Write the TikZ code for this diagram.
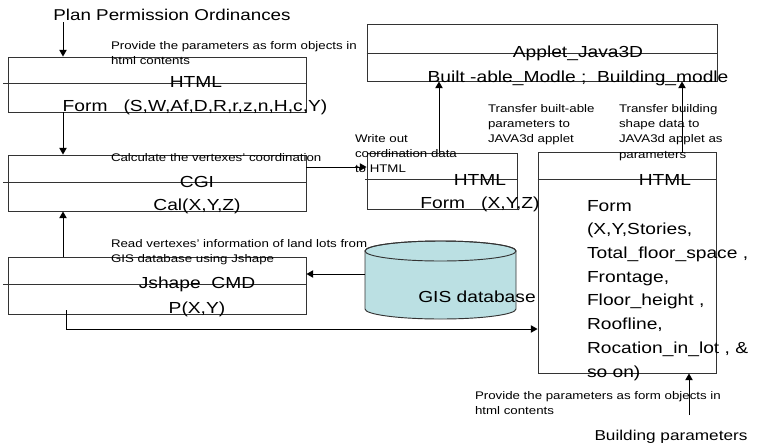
\documentclass[tikz,border=0pt]{standalone}
\usepackage{fontspec}
\setmainfont{Liberation Sans}[FakeStretch=1.2]
\usetikzlibrary{arrows.meta}
\definecolor{dbfill}{RGB}{187,224,227}
\newcommand\bigtxt{\fontsize{12pt}{13.5pt}\selectfont}
\newcommand\smalltxt{\fontsize{8.3pt}{11.6pt}\selectfont}
\newcommand\titletxt{\fontsize{11.75pt}{13.5pt}\selectfont}
\newcommand\bottomtxt{\fontsize{10.75pt}{13pt}\selectfont}
\newcommand\listtxt{\fontsize{12pt}{17.8pt}\selectfont}
\begin{document}
\begin{tikzpicture}[x=0.75pt,y=-0.75pt,
  boxnode/.style={draw=black!80,line width=0.7pt,inner sep=0pt,fill=none},
  divider/.style={draw=black!80,line width=0.7pt},
  txt/.style={inner sep=0pt,outer sep=0pt},
  arr/.style={draw=black,line width=0.75pt,-{Triangle[length=5pt,width=5.5pt]}}]
\useasboundingbox (0,0) rectangle (760,447);

% ---- boxes ----
\node[boxnode,minimum width=223.5pt,minimum height=41.25pt] (form1) at (157,84.5) {};
\node[boxnode,minimum width=223.5pt,minimum height=42pt] (cgi) at (157,183) {};
\node[boxnode,minimum width=223.5pt,minimum height=42.75pt] (jsh) at (157,285.5) {};
\node[boxnode,minimum width=112.5pt,minimum height=42pt] (xyz) at (442,181) {};
\node[boxnode,minimum width=262.5pt,minimum height=42.75pt] (applet) at (542,52.5) {};
\node[boxnode,minimum width=133.5pt,minimum height=165.75pt] (rhtml) at (627,262.5) {};

% dividers across the boxes
\draw[divider] (3,83) -- (form1.east |- 0,83);
\draw[divider] (3,182) -- (cgi.east |- 0,182);
\draw[divider] (3,284) -- (jsh.east |- 0,284);
\draw[divider] (365,179) -- (xyz.east |- 0,179);
\draw[divider] (applet.west |- 0,53) -- (applet.east |- 0,53);
\draw[divider] (rhtml.west |- 0,179) -- (rhtml.east |- 0,179);

% ---- GIS database cylinder ----
\path[fill=dbfill,draw=black!80,line width=0.7pt]
  (365,251) -- (365,309) arc[start angle=180,end angle=0,x radius=75.5,y radius=10]
  -- (516,251) arc[start angle=0,end angle=-180,x radius=75.5,y radius=10] -- cycle;
\draw[draw=black!80,line width=0.7pt] (440.5,251) ellipse[x radius=75.5,y radius=10];
\coordinate (gisL) at (365,274);

% ---- texts ----
\node[txt,anchor=base] (ppo) at (172,20) {\titletxt Plan Permission Ordinances};
\node[txt,anchor=base west] (t1) at (111,49) {\smalltxt\vtop{\hbox{Provide the parameters as form objects in}\hbox{html contents}}};
\node[txt,anchor=base] (h1) at (196,87) {\bigtxt HTML};
\node[txt,anchor=base] (f1) at (195,111) {\bigtxt Form\ \ \ (S,W,Af,D,R,r,z,n,H,c,Y)};

\node[txt,anchor=base west] (t2) at (111,161) {\smalltxt Calculate the vertexes' coordination};
\node[txt,anchor=base] (h2) at (197,187) {\bigtxt CGI};
\node[txt,anchor=base] (f2) at (197,210) {\bigtxt Cal(X,Y,Z)};

\node[txt,anchor=base west] (t3) at (111,247) {\smalltxt\vtop{\hbox{Read vertexes' information of land lots from}\hbox{GIS database using Jshape}}};
\node[txt,anchor=base] (h3) at (197,288) {\bigtxt Jshape\ \ CMD};
\node[txt,anchor=base] (f3) at (197,313) {\bigtxt P(X,Y)};

\node[txt,anchor=base] (gis) at (477,302) {\bigtxt GIS database};

\node[txt,anchor=base west] (t4) at (355,142) {\smalltxt\vtop{\hbox{Write out}\hbox{coordination data}\hbox{to HTML}}};
\node[txt,anchor=base] (h4) at (480,185) {\bigtxt HTML};
\node[txt,anchor=base] (f4) at (480,208) {\bigtxt Form\ \ \ (X,Y,Z)};

\node[txt,anchor=base] (h5) at (578,57) {\bigtxt Applet\_Java3D};
\node[txt,anchor=base] (f5) at (578,82) {\bigtxt Built -able\_Modle ;\ \ Building\_modle};

\node[txt,anchor=base west] (t5) at (488,112) {\smalltxt\vtop{\hbox{Transfer built-able}\hbox{parameters to}\hbox{JAVA3d applet}}};
\node[txt,anchor=base west] (t6) at (619,112) {\smalltxt\vtop{\hbox{Transfer building}\hbox{shape data to}\hbox{JAVA3d applet as}\hbox{parameters}}};

\node[txt,anchor=base] (h6) at (665,185) {\bigtxt HTML};
\node[txt,anchor=base west] (f6) at (587,211) {\listtxt\vtop{\hbox{Form}\hbox{(X,Y,Stories,}\hbox{Total\_floor\_space ,}\hbox{Frontage,}\hbox{Floor\_height ,}\hbox{Roofline,}\hbox{Rocation\_in\_lot , \&}\hbox{so on)}}};

\node[txt,anchor=base west] (t7) at (475,399) {\smalltxt\vtop{\hbox{Provide the parameters as form objects in}\hbox{html contents}}};
\node[txt,anchor=base] (bpar) at (671,440) {\bottomtxt Building parameters};

% ---- connectors ----
\coordinate (ppoA) at (63,22);
\draw[arr] (ppoA) -- (ppoA |- form1.north);
\draw[arr] (form1.south -| ppoA) -- (cgi.north -| ppoA);
\draw[arr] (jsh.north -| ppoA) -- (cgi.south -| ppoA);
\coordinate (cgiOut) at (306,167);
\draw[arr] (cgiOut) -- (cgiOut -| xyz.west);
\draw[arr] (gisL) -- (gisL -| jsh.east);
\coordinate (jsOut) at (66,310);
\coordinate (lowRoute) at (66,329);
\draw[arr] (jsOut) -- (lowRoute) -- (lowRoute -| rhtml.west);
\coordinate (upA) at (439,153);
\draw[arr] (upA) -- (upA |- applet.south);
\coordinate (upB) at (682,153);
\draw[arr] (upB) -- (upB |- applet.south);
\coordinate (bp) at (689,415);
\draw[arr] (bp) -- (bp |- rhtml.south);
\end{tikzpicture}
\end{document}
